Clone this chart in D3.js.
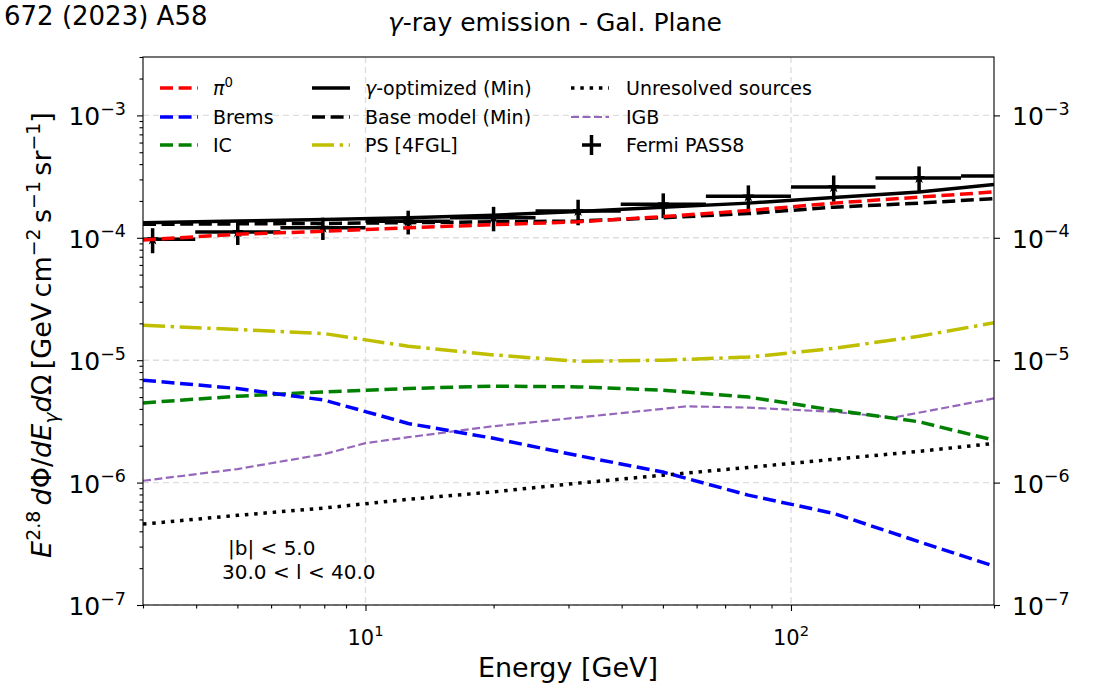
<!DOCTYPE html>
<html>
<head>
<meta charset="utf-8">
<script src="https://cdn.jsdelivr.net/npm/d3@7"></script>
<style>
body { margin: 0; background: #fff; }
svg { font-family: "DejaVu Sans", sans-serif; }
text { white-space: pre; }
</style>
</head>
<body>
<div id="vis"></div>
<script>
// Frame and plot area
const FRAME_WIDTH = 1097;
const FRAME_HEIGHT = 684;
const MARGINS = {left: 143, right: 103, top: 57, bottom: 79};
const VIS_WIDTH = FRAME_WIDTH - (MARGINS.left + MARGINS.right);
const VIS_HEIGHT = FRAME_HEIGHT - (MARGINS.top + MARGINS.bottom);

// Model curves, sampled on a shared energy grid [GeV]
const ENERGY = [3, 5, 8, 12.6, 20, 31.6, 50, 79.4, 126, 200, 300];
const PI0 = [9.6e-5, 1.07e-4, 1.13e-4, 1.21e-4, 1.28e-4, 1.35e-4, 1.49e-4, 1.67e-4, 1.92e-4, 2.15e-4, 2.37e-4];
const BREMS = [6.87e-6, 5.87e-6, 4.72e-6, 3.04e-6, 2.3e-6, 1.66e-6, 1.22e-6, 7.9e-7, 5.6e-7, 3.29e-7, 2.08e-7];
const IC = [4.48e-6, 5.08e-6, 5.51e-6, 5.87e-6, 6.14e-6, 6.05e-6, 5.69e-6, 5.0e-6, 3.91e-6, 3.14e-6, 2.22e-6];
const GAMMA_OPT = [1.33e-4, 1.37e-4, 1.41e-4, 1.46e-4, 1.53e-4, 1.64e-4, 1.78e-4, 1.92e-4, 2.13e-4, 2.37e-4, 2.72e-4];
const BASE_MODEL = [1.29e-4, 1.30e-4, 1.31e-4, 1.33e-4, 1.35e-4, 1.37e-4, 1.46e-4, 1.576e-4, 1.78e-4, 1.92e-4, 2.09e-4];
const PS_4FGL = [1.93e-5, 1.78e-5, 1.65e-5, 1.3e-5, 1.105e-5, 9.8e-6, 1.0e-5, 1.06e-5, 1.25e-5, 1.57e-5, 2.02e-5];
const UNRESOLVED = [4.58e-7, 5.4e-7, 6.2e-7, 7.3e-7, 8.4e-7, 9.9e-7, 1.15e-6, 1.33e-6, 1.55e-6, 1.8e-6, 2.09e-6];

// IGB has its own kinks
const IGB_ENERGY = [3, 5, 8, 10, 12.6, 20, 31.6, 57, 79.4, 126, 174, 300];
const IGB = [1.035e-6, 1.29e-6, 1.71e-6, 2.1e-6, 2.35e-6, 2.89e-6, 3.4e-6, 4.2e-6, 4.1e-6, 3.79e-6, 3.4e-6, 4.87e-6];

// Fermi PASS8 data points
const FERMI_E = [3.16, 5.01, 7.94, 12.6, 20.0, 31.6, 50.1, 79.4, 126, 200, 316];
const FERMI_E_LO = [2.51, 3.98, 6.31, 10, 15.8, 25.1, 39.8, 63.1, 100, 158, 251];
const FERMI_E_HI = [3.98, 6.31, 10, 15.8, 25.1, 39.8, 63.1, 100, 158, 251, 398];
const FERMI_FLUX = [9.73e-5, 1.114e-4, 1.21e-4, 1.365e-4, 1.46e-4, 1.656e-4, 1.877e-4, 2.18e-4, 2.6e-4, 3.08e-4, 3.2e-4];
const FERMI_ERR = [2.25e-5, 2.4e-5, 2.5e-5, 3.0e-5, 3.3e-5, 3.9e-5, 4.3e-5, 5.0e-5, 6.3e-5, 7.5e-5, 8.0e-5];

// Ticks
const X_TICKS = [10, 100];
const X_TICK_EXP = ["1", "2"];
const Y_TICKS = [1e-7, 1e-6, 1e-5, 1e-4, 1e-3];
const Y_TICK_EXP = ["−7", "−6", "−5", "−4", "−3"];

// Scales
const X_SCALE = d3.scaleLog()
    .domain([3, 300])
    .range([MARGINS.left, MARGINS.left + VIS_WIDTH]);
const Y_SCALE = d3.scaleLog()
    .domain([1e-7, 3e-3])
    .range([MARGINS.top + VIS_HEIGHT, MARGINS.top]);

const svg = d3.select("#vis")
    .append("svg")
    .attr("width", FRAME_WIDTH)
    .attr("height", FRAME_HEIGHT);

svg.append("defs").append("clipPath")
    .attr("id", "plot-clip")
    .append("rect")
    .attr("x", MARGINS.left)
    .attr("y", MARGINS.top)
    .attr("width", VIS_WIDTH)
    .attr("height", VIS_HEIGHT);

// writes mathtext-like runs (italic / super / sub) into a text element
function mathText(sel, parts, size) {
    let shift = 0;
    parts.forEach((p) => {
        const target = p.pos === "sup" ? -0.42 * size : (p.pos === "sub" ? 0.25 * size : 0);
        const ts = sel.append("tspan")
            .attr("dy", target - shift)
            .attr("font-size", p.pos ? size * 0.7 : size)
            .text(p.t);
        if (p.i) ts.attr("font-style", "italic");
        shift = target;
    });
}

// grid
const grid = svg.append("g")
    .attr("stroke", "#dedede")
    .attr("stroke-width", 1.4)
    .attr("stroke-dasharray", "6,4");
X_TICKS.forEach((t) => {
    grid.append("line")
        .attr("x1", X_SCALE(t)).attr("x2", X_SCALE(t))
        .attr("y1", MARGINS.top).attr("y2", MARGINS.top + VIS_HEIGHT);
});
Y_TICKS.forEach((t) => {
    grid.append("line")
        .attr("x1", MARGINS.left).attr("x2", MARGINS.left + VIS_WIDTH)
        .attr("y1", Y_SCALE(t)).attr("y2", Y_SCALE(t));
});

// minor tick positions
let xMinor = [];
[1, 10, 100].forEach((d) => { for (let k = 2; k <= 9; k++) xMinor.push(k * d); });
xMinor = xMinor.filter((v) => v >= 3 && v <= 300);
let yMinor = [];
[1e-7, 1e-6, 1e-5, 1e-4, 1e-3].forEach((d) => { for (let k = 2; k <= 9; k++) yMinor.push(k * d); });
yMinor = yMinor.filter((v) => v <= 3e-3);

// axes
const plotBottom = MARGINS.top + VIS_HEIGHT;
const plotRight = MARGINS.left + VIS_WIDTH;

svg.append("g")
    .attr("transform", "translate(0," + plotBottom + ")")
    .call(d3.axisBottom(X_SCALE).tickValues(xMinor).tickSize(3.5).tickFormat(""))
    .call((g) => g.select(".domain").remove());
svg.append("g")
    .attr("transform", "translate(0," + plotBottom + ")")
    .call(d3.axisBottom(X_SCALE).tickValues(X_TICKS).tickSize(6).tickFormat(""))
    .call((g) => g.select(".domain").remove());
svg.append("g")
    .attr("transform", "translate(" + MARGINS.left + ",0)")
    .call(d3.axisLeft(Y_SCALE).tickValues(yMinor).tickSize(3.5).tickFormat(""))
    .call((g) => g.select(".domain").remove());
svg.append("g")
    .attr("transform", "translate(" + MARGINS.left + ",0)")
    .call(d3.axisLeft(Y_SCALE).tickValues(Y_TICKS).tickSize(6).tickFormat(""))
    .call((g) => g.select(".domain").remove());
svg.append("g")
    .attr("transform", "translate(" + plotRight + ",0)")
    .call(d3.axisRight(Y_SCALE).tickValues(Y_TICKS).tickSize(6).tickFormat(""))
    .call((g) => g.select(".domain").remove());
svg.selectAll(".tick line").attr("stroke-width", 1.1);

// tick labels with exponents
Y_TICKS.forEach((t, i) => {
    const yy = Y_SCALE(t) + 10;
    mathText(svg.append("text").attr("x", 126).attr("y", yy).attr("text-anchor", "end"),
        [{t: "10"}, {t: Y_TICK_EXP[i], pos: "sup"}], 25);
    mathText(svg.append("text").attr("x", 1012).attr("y", yy),
        [{t: "10"}, {t: Y_TICK_EXP[i], pos: "sup"}], 25);
});
X_TICKS.forEach((t, i) => {
    mathText(svg.append("text").attr("x", X_SCALE(t)).attr("y", 645).attr("text-anchor", "middle"),
        [{t: "10"}, {t: X_TICK_EXP[i], pos: "sup"}], 21);
});

// Fermi error bars
const data = svg.append("g").attr("clip-path", "url(#plot-clip)");
const fermi = FERMI_E.map((e, i) => ({e: e, lo: FERMI_E_LO[i], hi: FERMI_E_HI[i], f: FERMI_FLUX[i], err: FERMI_ERR[i]}));
data.selectAll(".xerr")
    .data(fermi).enter().append("line")
    .attr("x1", (d) => X_SCALE(d.lo)).attr("x2", (d) => X_SCALE(d.hi))
    .attr("y1", (d) => Y_SCALE(d.f)).attr("y2", (d) => Y_SCALE(d.f))
    .attr("stroke", "#000").attr("stroke-width", 3.5);
data.selectAll(".yerr")
    .data(fermi).enter().append("line")
    .attr("x1", (d) => X_SCALE(d.e)).attr("x2", (d) => X_SCALE(d.e))
    .attr("y1", (d) => Y_SCALE(d.f - d.err)).attr("y2", (d) => Y_SCALE(d.f + d.err))
    .attr("stroke", "#000").attr("stroke-width", 3.5);
data.selectAll(".pt")
    .data(fermi).enter().append("path")
    .attr("d", d3.symbol(d3.symbolStar).size(45))
    .attr("transform", (d) => "translate(" + X_SCALE(d.e) + "," + Y_SCALE(d.f) + ")")
    .attr("fill", "#000");

// model curves
const SERIES = [
    {x: ENERGY, y: UNRESOLVED, color: "#000000", w: 3.5, dash: "3.5,5.8"},
    {x: IGB_ENERGY, y: IGB, color: "#9467bd", w: 2.2, dash: "8,3.5"},
    {x: ENERGY, y: PS_4FGL, color: "#bfbf00", w: 3.5, dash: "22,5.6,3.5,5.6"},
    {x: ENERGY, y: IC, color: "#008000", w: 3.5, dash: "13,5.6"},
    {x: ENERGY, y: BREMS, color: "#0000ff", w: 3.5, dash: "13,5.6"},
    {x: ENERGY, y: BASE_MODEL, color: "#000000", w: 3.5, dash: "13,5.6"},
    {x: ENERGY, y: GAMMA_OPT, color: "#000000", w: 3.5, dash: null},
    {x: ENERGY, y: PI0, color: "#ff0000", w: 3.5, dash: "13,5.6"}
];
const lineGen = d3.line()
    .x((d) => X_SCALE(d[0]))
    .y((d) => Y_SCALE(d[1]));
SERIES.forEach((s) => {
    data.append("path")
        .datum(s.x.map((e, i) => [e, s.y[i]]))
        .attr("d", lineGen)
        .attr("fill", "none")
        .attr("stroke", s.color)
        .attr("stroke-width", s.w)
        .attr("stroke-dasharray", s.dash);
});

// frame
svg.append("rect")
    .attr("x", MARGINS.left).attr("y", MARGINS.top)
    .attr("width", VIS_WIDTH).attr("height", VIS_HEIGHT)
    .attr("fill", "none").attr("stroke", "#000").attr("stroke-width", 1.1);

// legend
const LEGEND = [
    {col: 0, row: 0, parts: [{t: "π", i: 1}, {t: "0", pos: "sup"}], color: "#ff0000", dash: "13,5.6"},
    {col: 0, row: 1, parts: [{t: "Brems"}], color: "#0000ff", dash: "13,5.6"},
    {col: 0, row: 2, parts: [{t: "IC"}], color: "#008000", dash: "13,5.6"},
    {col: 1, row: 0, parts: [{t: "γ", i: 1}, {t: "-optimized (Min)"}], color: "#000000", dash: null},
    {col: 1, row: 1, parts: [{t: "Base model (Min)"}], color: "#000000", dash: "13,5.6"},
    {col: 1, row: 2, parts: [{t: "PS [4FGL]"}], color: "#bfbf00", dash: "22,5.6,3.5,5.6"},
    {col: 2, row: 0, parts: [{t: "Unresolved sources"}], color: "#000000", dash: "3.5,5.8"},
    {col: 2, row: 1, parts: [{t: "IGB"}], color: "#9467bd", dash: "8,3.5", w: 2.2},
    {col: 2, row: 2, parts: [{t: "Fermi PASS8"}], color: "#000000", fermi: true}
];
const LEG_X = [160, 312, 571];
const LEG_TX = [213, 365, 626];
const LEG_Y = [88, 117, 145];
const legend = svg.append("g");
LEGEND.forEach((l) => {
    const yy = LEG_Y[l.row];
    const x0 = LEG_X[l.col];
    if (l.fermi) {
        legend.append("line").attr("x1", x0 + 11).attr("x2", x0 + 30).attr("y1", yy).attr("y2", yy)
            .attr("stroke", "#000").attr("stroke-width", 3.5);
        legend.append("line").attr("x1", x0 + 20.5).attr("x2", x0 + 20.5).attr("y1", yy - 10).attr("y2", yy + 10)
            .attr("stroke", "#000").attr("stroke-width", 3.5);
    } else {
        legend.append("line").attr("x1", x0).attr("x2", x0 + 38).attr("y1", yy).attr("y2", yy)
            .attr("stroke", l.color).attr("stroke-width", l.w || 3.5)
            .attr("stroke-dasharray", l.dash);
    }
    mathText(legend.append("text").attr("x", LEG_TX[l.col]).attr("y", yy + 7), l.parts, 19);
});

// region annotation
svg.append("text").attr("x", 228).attr("y", 555).attr("font-size", 20).text("|b| < 5.0");
svg.append("text").attr("x", 222).attr("y", 579).attr("font-size", 20).text("30.0 < l < 40.0");

// title, axis labels
mathText(svg.append("text").attr("x", 555).attr("y", 31).attr("text-anchor", "middle"),
    [{t: "γ", i: 1}, {t: "-ray emission - Gal. Plane"}], 25);
svg.append("text").attr("x", 568).attr("y", 677).attr("text-anchor", "middle")
    .attr("font-size", 27).text("Energy [GeV]");
mathText(svg.append("text").attr("transform", "translate(51,335) rotate(-90)").attr("text-anchor", "middle"),
    [{t: "E", i: 1}, {t: "2.8", pos: "sup"}, {t: "\u2009d", i: 1}, {t: "Φ"}, {t: "/"}, {t: "dE", i: 1},
     {t: "γ", i: 1, pos: "sub"}, {t: "d", i: 1}, {t: "Ω"}, {t: "\u2009[GeV\u2009cm"}, {t: "−2", pos: "sup"},
     {t: "\u2009s"}, {t: "−1", pos: "sup"}, {t: "\u2009sr"}, {t: "−1", pos: "sup"}, {t: "]"}], 27);

// page header fragment at top-left
svg.append("text").attr("x", 4).attr("y", 25).attr("font-size", 26).text("672 (2023) A58");
</script>
</body>
</html>
